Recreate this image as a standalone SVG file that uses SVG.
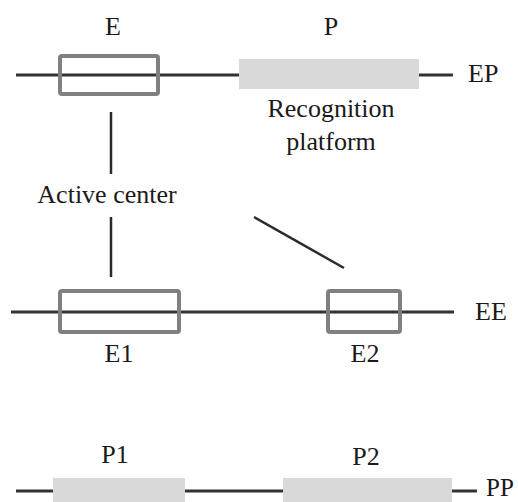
<svg xmlns="http://www.w3.org/2000/svg" width="518" height="502" viewBox="0 0 518 502">
  <style>
    .axis { stroke: #333333; stroke-width: 3; fill: none; stroke-linecap: butt; }
    .link { stroke: #2b2b2b; stroke-width: 2.5; fill: none; }
    .ebox { fill: none; stroke: #808080; stroke-width: 4; }
    .pbox { fill: #d9d9d9; stroke: none; }
    text { font-family: "Liberation Serif", "Times New Roman", serif; font-size: 26px; fill: #1a1a1a; }
    .mid { text-anchor: middle; }
  </style>
  <rect width="518" height="502" fill="#ffffff"/>

  <!-- EP construct -->
  <g id="row-EP">
    <line class="axis" x1="16" y1="75" x2="239" y2="75"/>
    <line class="axis" x1="419" y1="75" x2="453" y2="75"/>
    <text x="468" y="82">EP</text>
  </g>
  <g id="node-E">
    <rect class="ebox" x="60" y="56" width="98" height="38" rx="2"/>
    <text class="mid" x="113" y="35">E</text>
  </g>
  <g id="node-P">
    <rect class="pbox" x="239" y="59" width="180" height="30"/>
    <text class="mid" x="331" y="35">P</text>
    <text class="mid" x="331" y="117">Recognition</text>
    <text class="mid" x="331" y="150">platform</text>
  </g>

  <!-- connectors -->
  <g id="connectors">
    <line class="link" x1="111" y1="112" x2="111" y2="174"/>
    <line class="link" x1="111" y1="217" x2="111" y2="277"/>
    <line class="link" x1="254" y1="217" x2="344" y2="268"/>
  </g>
  <g id="label-active">
    <text class="mid" x="107" y="203">Active center</text>
  </g>

  <!-- EE construct -->
  <g id="row-EE">
    <line class="axis" x1="11" y1="312" x2="454" y2="312"/>
    <text x="475" y="320">EE</text>
  </g>
  <g id="node-E1">
    <rect class="ebox" x="60" y="291" width="119" height="41" rx="2"/>
    <text class="mid" x="119" y="362">E1</text>
  </g>
  <g id="node-E2">
    <rect class="ebox" x="328" y="291" width="72" height="41" rx="2"/>
    <text class="mid" x="365" y="362">E2</text>
  </g>

  <!-- PP construct -->
  <g id="row-PP">
    <line class="axis" x1="16" y1="491" x2="477" y2="491"/>
    <text x="486" y="496" style="font-size:25px">PP</text>
  </g>
  <g id="node-P1">
    <rect class="pbox" x="53" y="478" width="132" height="30"/>
    <text class="mid" x="115" y="463">P1</text>
  </g>
  <g id="node-P2">
    <rect class="pbox" x="283" y="478" width="169" height="30"/>
    <text class="mid" x="366" y="465">P2</text>
  </g>
</svg>
